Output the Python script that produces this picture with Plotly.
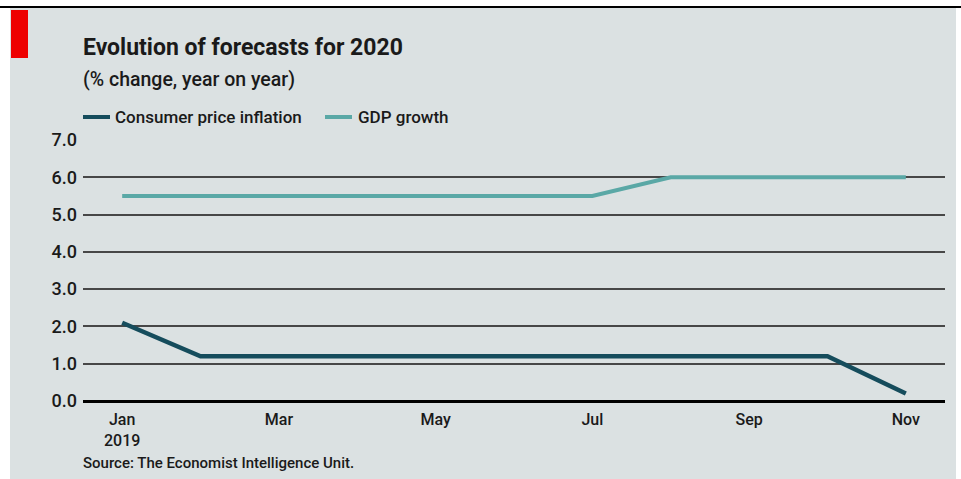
import plotly.graph_objects as go

months = ["Jan", "Feb", "Mar", "Apr", "May", "Jun", "Jul", "Aug", "Sep", "Oct", "Nov"]
cpi = [2.1, 1.2, 1.2, 1.2, 1.2, 1.2, 1.2, 1.2, 1.2, 1.2, 0.2]
gdp = [5.5, 5.5, 5.5, 5.5, 5.5, 5.5, 5.5, 6.0, 6.0, 6.0, 6.0]
tick_months = ["Jan", "Mar", "May", "Jul", "Sep", "Nov"]
tick_labels = ["Jan<br>2019", "Mar", "May", "Jul", "Sep", "Nov"]
y_ticks = [0, 1, 2, 3, 4, 5, 6, 7]
series_names = ["Consumer price inflation", "GDP growth"]
series_colors = ["#154c5c", "#5aa8a6"]

W, H = 961, 479
L, R, T, B = 83, 16, 140, 78
pw, ph = W - L - R, H - T - B

def px(x):
    return (x - L) / pw

def py(y):
    return (H - B - y) / ph

FONT = "Roboto"
TXT = "#1a1a1a"

fig = go.Figure()
fig.add_trace(go.Scatter(x=months, y=cpi, mode="lines", name=series_names[0],
                         line=dict(color=series_colors[0], width=4.5)))
fig.add_trace(go.Scatter(x=months, y=gdp, mode="lines", name=series_names[1],
                         line=dict(color=series_colors[1], width=4)))

shapes = [
    dict(type="rect", xref="paper", yref="paper", x0=px(10), x1=px(956), y0=py(479), y1=py(8),
         fillcolor="#dbe1e2", line=dict(width=0), layer="below"),
    dict(type="line", xref="paper", yref="paper", x0=px(0), x1=px(961), y0=py(7), y1=py(7),
         line=dict(color="#000000", width=2)),
    dict(type="rect", xref="paper", yref="paper", x0=px(11), x1=px(28), y0=py(58), y1=py(10),
         fillcolor="#ee0000", line=dict(width=0)),
    dict(type="line", xref="paper", yref="paper", x0=px(83), x1=px(110), y0=py(117), y1=py(117),
         line=dict(color=series_colors[0], width=4)),
    dict(type="line", xref="paper", yref="paper", x0=px(325), x1=px(352), y0=py(117), y1=py(117),
         line=dict(color=series_colors[1], width=4)),
]

annotations = [
    dict(text="<b>Evolution of forecasts for 2020</b>", xref="paper", yref="paper",
         x=px(81), y=py(48), xanchor="left", yanchor="middle", showarrow=False,
         font=dict(family=FONT, size=23, color=TXT)),
    dict(text="(% change, year on year)", xref="paper", yref="paper",
         x=px(81), y=py(79), xanchor="left", yanchor="middle", showarrow=False,
         font=dict(family=FONT, size=19.5, color=TXT, weight=500)),
    dict(text=series_names[0], xref="paper", yref="paper",
         x=px(113), y=py(117), xanchor="left", yanchor="middle", showarrow=False,
         font=dict(family=FONT, size=17, color=TXT, weight=500)),
    dict(text=series_names[1], xref="paper", yref="paper",
         x=px(356), y=py(117), xanchor="left", yanchor="middle", showarrow=False,
         font=dict(family=FONT, size=17, color=TXT, weight=500)),
    dict(text="Source: The Economist Intelligence Unit.", xref="paper", yref="paper",
         x=px(81), y=py(463), xanchor="left", yanchor="middle", showarrow=False,
         font=dict(family=FONT, size=15, color=TXT, weight=500)),
]

fig.update_layout(
    width=W, height=H,
    margin=dict(l=L, r=R, t=T, b=B),
    paper_bgcolor="#ffffff",
    plot_bgcolor="rgba(0,0,0,0)",
    font=dict(family=FONT, color=TXT),
    shapes=shapes,
    annotations=annotations,
    showlegend=False,
    xaxis=dict(type="category", categoryorder="array", categoryarray=months,
               range=[-0.5, 10.5], tickvals=tick_months, ticktext=tick_labels,
               showgrid=False, zeroline=False, showline=False, ticks="",
               ticklabelstandoff=7,
               tickfont=dict(family=FONT, size=16, color=TXT, weight=500)),
    yaxis=dict(range=[0, 7.0], tickvals=y_ticks, ticktext=[f"{v:.1f}" for v in y_ticks],
               showgrid=True, gridcolor="#474747", gridwidth=1.5,
               zeroline=True, zerolinecolor="#000000", zerolinewidth=2.5,
               showline=False, ticks="", ticklabelstandoff=5,
               tickfont=dict(family=FONT, size=18, color=TXT, weight=500)),
)

fig.write_html("out.html", config={"displayModeBar": False},
               post_script="document.body.style.margin='0px';")
